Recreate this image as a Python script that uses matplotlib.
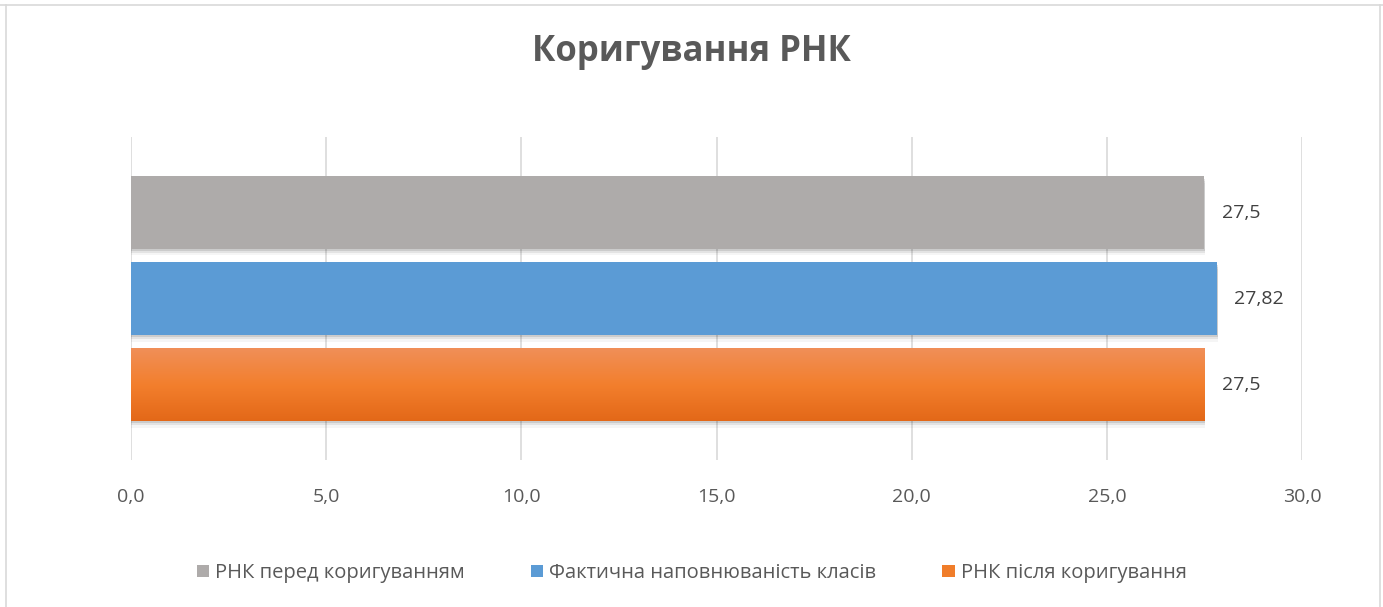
import matplotlib
matplotlib.use("Agg")
import matplotlib.pyplot as plt
import numpy as np
from matplotlib.patches import Rectangle
from matplotlib.lines import Line2D
from matplotlib.colors import LinearSegmentedColormap

title = "Коригування РНК"
series = ["РНК перед коригуванням", "Фактична наповнюваність класів", "РНК після коригування"]
values = [27.5, 27.82, 27.5]
labels = ["27,5", "27,82", "27,5"]
xticks = [0, 5, 10, 15, 20, 25, 30]
xticklabels = ["0,0", "5,0", "10,0", "15,0", "20,0", "25,0", "30,0"]
colors = ["#AEABAA", "#5B9BD5", "#F07D2A"]

plt.rcParams['font.family'] = ['Open Sans', 'DejaVu Sans']
W, H = 1383, 607
fig = plt.figure(figsize=(W / 100, H / 100), dpi=100)
ax = fig.add_axes([131 / W, 1 - 460 / H, (1302 - 131) / W, (460 - 137) / H])

pos = np.arange(len(values))
h = 0.84
for i, (v, c) in enumerate(zip(values, colors)):
    # soft shadow below the bar
    for k, a in enumerate([0.10, 0.07, 0.04]):
        ax.barh(pos[i] + 0.03 + 0.025 * k, v + 0.02, height=h, left=0.0,
                color="#000000", alpha=a, zorder=2, linewidth=0)
    if i == 2:
        grad = np.linspace(0, 1, 200).reshape(-1, 1)
        cmap = LinearSegmentedColormap.from_list("o", ["#F08F58", "#F37F2D", "#E36818"])
        im = ax.imshow(grad, cmap=cmap, aspect="auto", interpolation="bilinear",
                       extent=[0, v, pos[i] + h / 2, pos[i] - h / 2], zorder=3)
        r = Rectangle((0, pos[i] - h / 2), v, h, facecolor="none", edgecolor="none", zorder=3)
        ax.add_patch(r)
        im.set_clip_path(r)
    else:
        ax.barh(pos[i], v, height=h, color=c, zorder=3, linewidth=0)
    ax.text(v + 0.45, pos[i], labels[i], va="center", ha="left", fontsize=14, color="#404040", zorder=4)

ax.set_xlim(0, 30)
ax.set_ylim(1 + 161.5 / 86, 1 - 161.5 / 86)
ax.set_xticks(xticks)
ax.set_xticklabels(xticklabels, fontsize=14, color="#595959")
ax.set_yticks([])
ax.tick_params(axis="x", length=0, pad=20)
ax.grid(axis="x", color="#D9D9D9", linewidth=1.2, zorder=0)
for s in ax.spines.values():
    s.set_visible(False)

fig.text(0.5, 1 - 52 / H, title, ha="center", va="center", fontsize=25, fontweight="bold", color="#595959")

handles = [Rectangle((0, 0), 1, 1, facecolor=c, edgecolor="none") for c in colors]
fig.legend(handles, series, loc="center", bbox_to_anchor=(0.5, 1 - 573 / H), ncol=3, frameon=False,
           fontsize=14.5, labelcolor="#595959", handlelength=0.6, handleheight=0.6, handletextpad=0.3,
           columnspacing=3.3)

# outer frame
fig.add_artist(Line2D([6 / W, 6 / W], [0, 1 - 5 / H], color="#D9D9D9", lw=1.2))
fig.add_artist(Line2D([0, 1], [1 - 5 / H, 1 - 5 / H], color="#D9D9D9", lw=1.2))
fig.add_artist(Line2D([1380 / W, 1380 / W], [0, 1 - 5 / H], color="#D9D9D9", lw=1.2))

fig.savefig("out.png", dpi=100)
